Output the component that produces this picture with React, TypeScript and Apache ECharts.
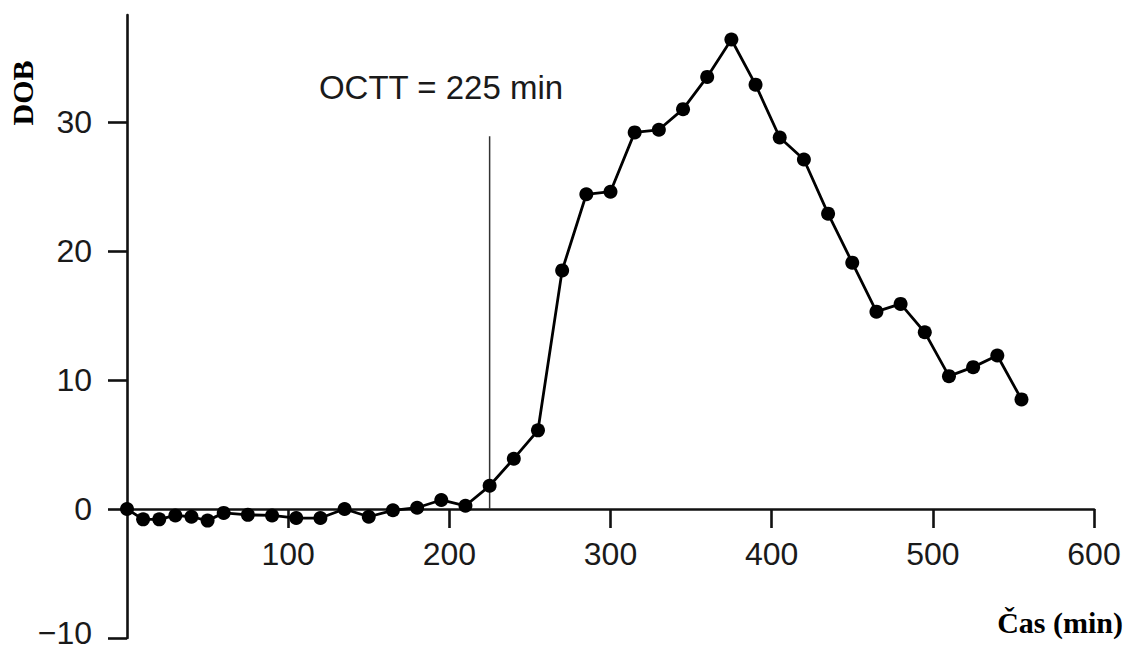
import React, { useEffect, useRef } from "react";
import * as echarts from "echarts";

const times = [0, 10, 20, 30, 40, 50, 60, 75, 90, 105, 120, 135, 150, 165, 180, 195, 210, 225, 240, 255, 270, 285, 300, 315, 330, 345, 360, 375, 390, 405, 420, 435, 450, 465, 480, 495, 510, 525, 540, 555];
const dob = [0, -0.8, -0.8, -0.5, -0.6, -0.9, -0.3, -0.45, -0.5, -0.7, -0.7, 0, -0.6, -0.1, 0.1, 0.7, 0.25, 1.8, 3.9, 6.1, 18.5, 24.4, 24.6, 29.2, 29.4, 31.0, 33.5, 36.4, 32.9, 28.8, 27.1, 22.9, 19.1, 15.3, 15.9, 13.7, 10.3, 11.0, 11.9, 8.5];
const xTicks = [100, 200, 300, 400, 500, 600];
const yTicks = [-10, 0, 10, 20, 30];
const octtX = 225;
const octtTop = 28.9;
const octtLabel = "OCTT = 225 min";
const xName = "Čas (min)";
const yName = "DOB";

const GRID_TOP = 15;
const GRID_BOTTOM = 15;
const H = 653;
const Y_MIN = -10;
const Y_MAX = 38.3;

export default function App() {
  const ref = useRef<HTMLDivElement>(null);
  useEffect(() => {
    if (!ref.current) return;
    const chart = echarts.init(ref.current, undefined, { renderer: "svg" });
    const axisLineStyle = { color: "#111", width: 2.6 };
    const plotH = H - GRID_TOP - GRID_BOTTOM;
    const zeroOffset = -(plotH * (0 - Y_MIN)) / (Y_MAX - Y_MIN);
    const labelFont = {
      fontFamily: "Liberation Sans, Arial, sans-serif",
      fontSize: 32,
      color: "#1a1a1a",
    };
    chart.setOption({
      animation: false,
      backgroundColor: "#fff",
      grid: { left: 127, right: 33, top: GRID_TOP, bottom: GRID_BOTTOM, outerBoundsMode: "none" },
      xAxis: {
        type: "value",
        min: 0,
        max: 600,
        interval: 100,
        position: "bottom",
        offset: zeroOffset,
        axisLine: { show: true, onZero: false, lineStyle: axisLineStyle },
        axisTick: { show: true, length: 19, lineStyle: axisLineStyle, customValues: xTicks },
        axisLabel: { customValues: xTicks, margin: 29, ...labelFont },
        splitLine: { show: false },
      },
      yAxis: {
        type: "value",
        min: Y_MIN,
        max: Y_MAX,
        interval: 10,
        axisLine: { show: true, onZero: false, lineStyle: axisLineStyle },
        axisTick: { show: true, length: 19, lineStyle: axisLineStyle, customValues: yTicks },
        axisLabel: {
          customValues: yTicks,
          margin: 35,
          ...labelFont,
          lineHeight: 28,
          formatter: (v: number) => (v < 0 ? "{neg|\u2212" + Math.abs(v) + "}" : String(v)),
          rich: {
            neg: { ...labelFont, lineHeight: 26, padding: [0, 0, 10, 0] },
          },
        },
        splitLine: { show: false },
      },
      series: [
        {
          type: "line",
          data: [
            [octtX, 0],
            [octtX, octtTop],
          ],
          symbol: "none",
          lineStyle: { color: "#333", width: 1.5 },
          z: 1,
        },
        {
          type: "line",
          data: times.map((t, i) => [t, dob[i]]),
          symbol: "circle",
          symbolSize: 14,
          itemStyle: { color: "#000" },
          lineStyle: { color: "#000", width: 2.8 },
          z: 3,
        },
      ],
      graphic: [
        {
          type: "text",
          x: 441,
          y: 87,
          style: {
            text: octtLabel,
            fontFamily: "Liberation Sans, Arial, sans-serif",
            fontSize: 33,
            fill: "#1a1a1a",
            textAlign: "center",
            textVerticalAlign: "middle",
          },
        },
        {
          type: "text",
          x: 22,
          y: 93,
          rotation: Math.PI / 2,
          style: {
            text: yName,
            fontFamily: "Liberation Serif, Times New Roman, serif",
            fontWeight: "bold",
            fontSize: 30,
            fill: "#000",
            textAlign: "center",
            textVerticalAlign: "middle",
          },
        },
        {
          type: "text",
          x: 1123,
          y: 622,
          style: {
            text: xName,
            fontFamily: "Liberation Serif, Times New Roman, serif",
            fontWeight: "bold",
            fontSize: 30,
            fill: "#000",
            textAlign: "right",
            textVerticalAlign: "middle",
          },
        },
      ],
    });
    return () => chart.dispose();
  }, []);
  return (
    <div
      ref={ref}
      style={{ position: "fixed", left: 0, top: 0, width: 1127, height: 653, background: "#fff" }}
    />
  );
}
